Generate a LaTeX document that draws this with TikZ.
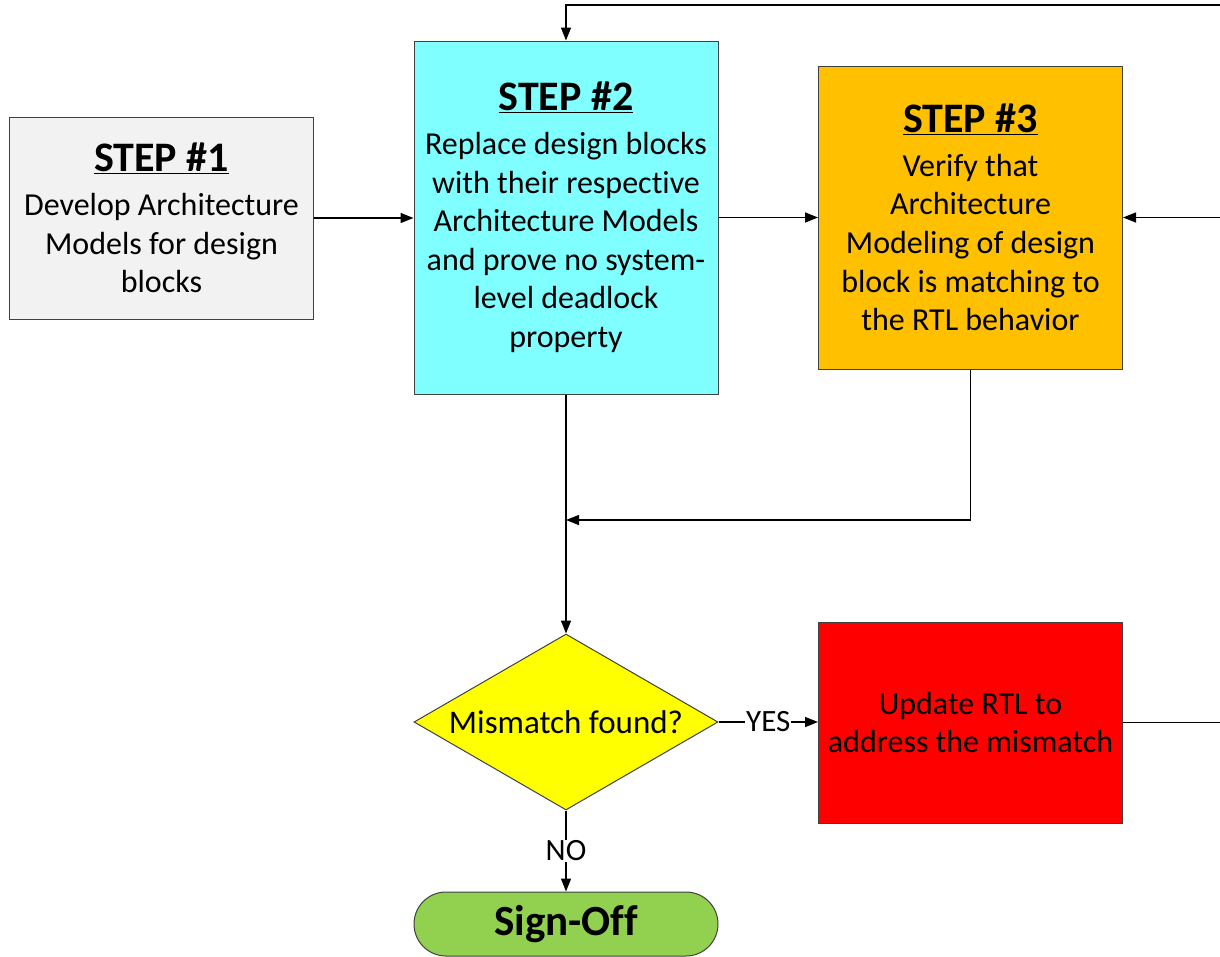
\documentclass[tikz,border=0pt]{standalone}
\usepackage{fontspec}
\setmainfont{Carlito}[Ligatures=NoCommon]
\usetikzlibrary{shapes.geometric,arrows.meta}
\definecolor{cgray}{HTML}{F2F2F2}
\definecolor{ccyan}{HTML}{7FFFFF}
\definecolor{corange}{HTML}{FFC000}
\definecolor{cyellow}{HTML}{FFFF00}
\definecolor{cred}{HTML}{FF0000}
\definecolor{cgreen}{HTML}{92D050}
\definecolor{cborder}{HTML}{404040}
\tikzset{
  box/.style={draw=cborder, line width=1pt, inner sep=0pt, minimum width=304pt, align=center,
    font=\fontsize{32}{38.6}\selectfont},
  arr/.style={line width=1.5pt, -{Triangle[length=13pt,width=10pt]}},
  ln/.style={line width=1.5pt},
  lbl/.style={fill=white, inner sep=1pt, font=\fontsize{31}{36}\selectfont}
}
\newcommand{\hd}[1]{{\fontsize{42}{46}\selectfont\bfseries\underline{#1}}}
\begin{document}
\begin{tikzpicture}[x=1pt,y=-1pt]
\useasboundingbox (0,0) rectangle (1220,956);
\node[box, fill=cgray, minimum height=202pt] (s1) at (161.5,218)
  {\hd{STEP \#1}\\[5pt]Develop Architecture\\Models for design\\blocks};
\node[box, fill=ccyan, minimum height=353pt] (s2) at (566,217.5)
  {\hd{STEP \#2}\\[5pt]Replace design blocks\\with their respective\\Architecture Models\\and prove no system-\\level deadlock\\property};
\node[box, fill=corange, minimum height=303pt] (s3) at (970.5,217.5)
  {\hd{STEP \#3}\\[5pt]Verify that\\Architecture\\Modeling of design\\block is matching to\\the RTL behavior};
\node[diamond, draw=cborder, line width=1pt, fill=cyellow, inner sep=0pt, minimum width=304pt, minimum height=176pt] (d) at (566,722) {};
\node[font=\fontsize{33}{38}\selectfont] (dt) at (d.center) {Mismatch found?};
\node[box, fill=cred, minimum height=201pt] (u) at (970.5,722.5)
  {Update RTL to\\address the mismatch};
\node[draw=cborder, line width=1pt, fill=cgreen, rounded corners=32pt, minimum width=304pt, minimum height=64pt, inner sep=0pt,
  font=\fontsize{43}{48}\selectfont\bfseries] (so) at (566,924) {Sign-Off};
\coordinate (j) at (566,520);
\coordinate (rt) at (1222,5);
\coordinate (rm) at (1222,217.5);
\coordinate (rb) at (1222,722.5);
\draw[arr] (s1.east) -- (s1.east -| s2.west);
\draw[arr] (s2.east) -- (s3.west);
\draw[arr] (s2.south) -- (d.north);
\draw[arr] (s3.south) |- (j);
\draw[arr] (rt) -| (s2.north);
\draw[arr] (rm) -- (s3.east);
\draw[ln] (u.east) -- (rb);
\draw[arr] (d.east) -- node[lbl] {YES} (d.east -| u.west);
\draw[arr] (d.south) -- node[lbl] {NO} (so.north);
\end{tikzpicture}
\end{document}
